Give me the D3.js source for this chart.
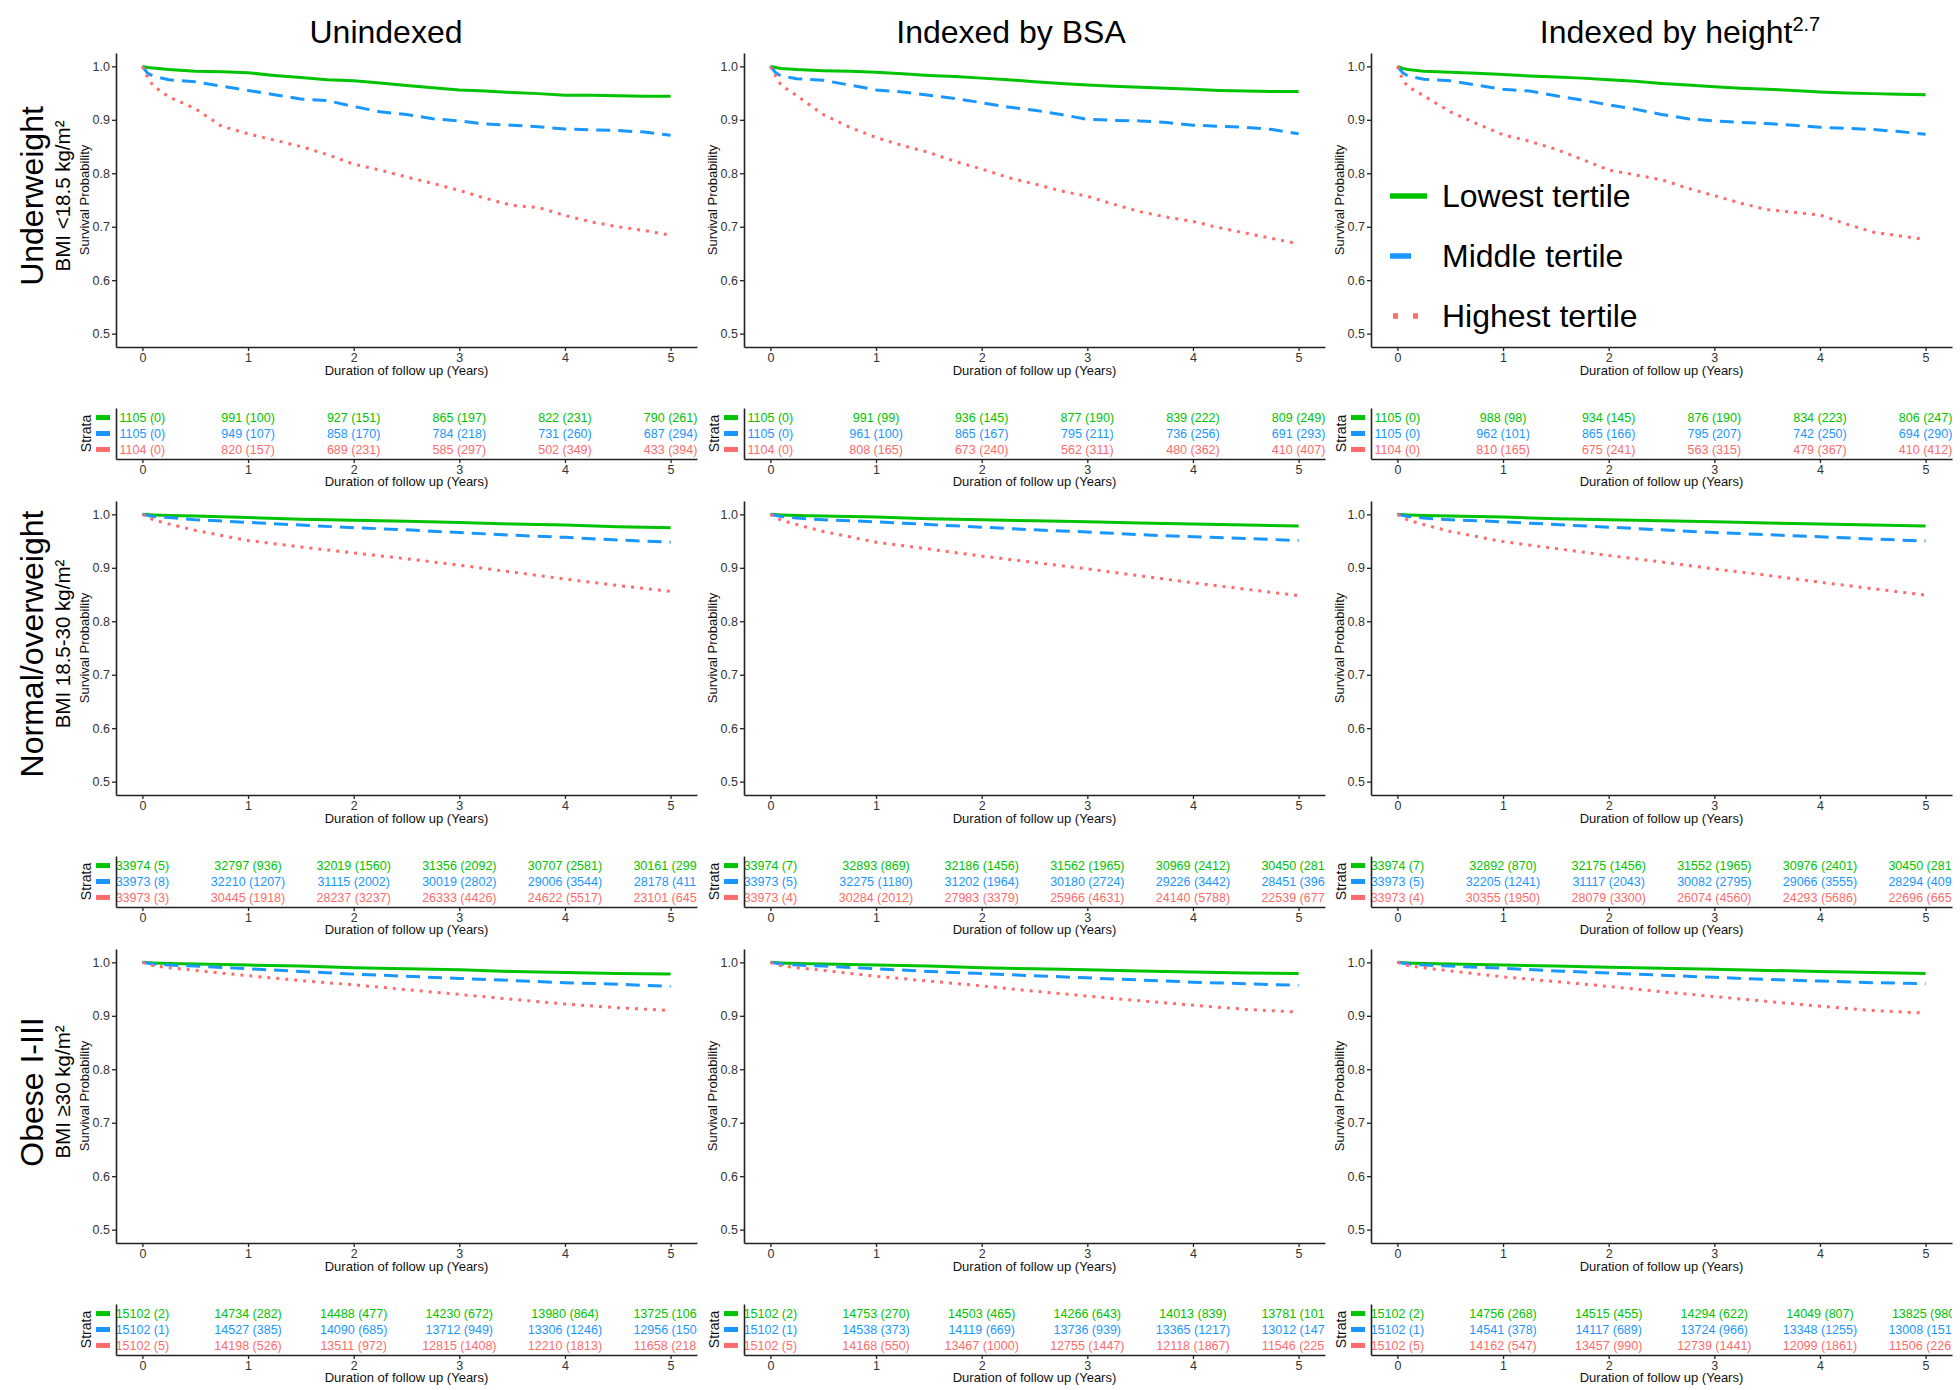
<!DOCTYPE html>
<html>
<head>
<meta charset="utf-8">
<script src="https://cdn.jsdelivr.net/npm/d3@7"></script>
<style>
  body { margin: 0; background: #fff; }
  svg { display: block; font-family: "Liberation Sans", Arial, Helvetica, sans-serif; }
</style>
</head>
<body>
<svg id="chart" width="1960" height="1390"></svg>
<script>
// ---- labels ----
const columnTitles = ["Unindexed", "Indexed by BSA", "Indexed by height"];
const rowGroups = ["Underweight", "Normal/overweight", "Obese I-III"];
const rowBmi = ["BMI <18.5 kg/m²", "BMI 18.5-30 kg/m²", "BMI ≥30 kg/m²"];
const tertiles = ["Lowest tertile", "Middle tertile", "Highest tertile"];
const yTicks = [0.5, 0.6, 0.7, 0.8, 0.9, 1.0];
const xTicks = [0, 1, 2, 3, 4, 5];
const tableTimes = [0, 1, 2, 3, 4, 5];

// ---- follow-up times (years) at which survival is listed ----
const timesUnderweight = [0, 0.05, 0.1, 0.25, 0.5, 0.75, 1, 1.25, 1.5, 1.75, 2, 2.25, 2.5, 2.75, 3, 3.25, 3.5, 3.75, 4, 4.25, 4.5, 4.75, 5];
const timesLarger = [0, 0.1, 0.25, 0.5, 1, 1.5, 2, 2.5, 3, 3.5, 4, 4.5, 5];

// ---- survival probability: underweight ----
const uwUnindexedLow  = [1, 0.998, 0.997, 0.994, 0.991, 0.990, 0.988, 0.983, 0.979, 0.975, 0.973, 0.969, 0.964, 0.960, 0.956, 0.954, 0.951, 0.949, 0.946, 0.946, 0.945, 0.944, 0.944];
const uwUnindexedMid  = [1, 0.987, 0.982, 0.975, 0.971, 0.963, 0.955, 0.947, 0.939, 0.936, 0.925, 0.915, 0.910, 0.902, 0.898, 0.892, 0.890, 0.887, 0.883, 0.881, 0.880, 0.877, 0.871];
const uwUnindexedHigh = [1, 0.980, 0.964, 0.943, 0.921, 0.888, 0.874, 0.862, 0.850, 0.835, 0.817, 0.806, 0.793, 0.781, 0.768, 0.753, 0.740, 0.736, 0.721, 0.709, 0.700, 0.693, 0.684];

const uwBsaLow  = [1, 0.998, 0.996, 0.994, 0.992, 0.991, 0.989, 0.986, 0.983, 0.981, 0.978, 0.975, 0.971, 0.968, 0.965, 0.963, 0.961, 0.959, 0.957, 0.955, 0.954, 0.953, 0.953];
const uwBsaMid  = [1, 0.988, 0.982, 0.977, 0.974, 0.965, 0.956, 0.952, 0.946, 0.940, 0.932, 0.924, 0.918, 0.910, 0.901, 0.899, 0.898, 0.895, 0.890, 0.888, 0.886, 0.882, 0.874];
const uwBsaHigh = [1, 0.982, 0.965, 0.945, 0.910, 0.886, 0.867, 0.852, 0.839, 0.822, 0.808, 0.792, 0.780, 0.767, 0.757, 0.742, 0.728, 0.718, 0.710, 0.698, 0.688, 0.678, 0.668];

const uwHeightLow  = [1, 0.996, 0.994, 0.991, 0.989, 0.987, 0.985, 0.982, 0.980, 0.978, 0.975, 0.972, 0.968, 0.965, 0.962, 0.959, 0.957, 0.955, 0.952, 0.950, 0.949, 0.948, 0.947];
const uwHeightMid  = [1, 0.988, 0.982, 0.976, 0.973, 0.965, 0.957, 0.954, 0.945, 0.937, 0.928, 0.920, 0.910, 0.902, 0.898, 0.895, 0.893, 0.890, 0.886, 0.884, 0.882, 0.878, 0.873];
const uwHeightHigh = [1, 0.975, 0.962, 0.945, 0.915, 0.893, 0.872, 0.860, 0.845, 0.826, 0.806, 0.797, 0.788, 0.772, 0.758, 0.744, 0.732, 0.727, 0.722, 0.705, 0.690, 0.683, 0.676];

// ---- survival probability: normal/overweight ----
const noUnindexedLow  = [1, 0.999, 0.998, 0.997, 0.994, 0.991, 0.989, 0.987, 0.985, 0.982, 0.980, 0.977, 0.975];
const noUnindexedMid  = [1, 0.996, 0.994, 0.990, 0.985, 0.980, 0.975, 0.971, 0.966, 0.961, 0.957, 0.952, 0.948];
const noUnindexedHigh = [1, 0.990, 0.982, 0.970, 0.951, 0.939, 0.928, 0.917, 0.905, 0.892, 0.879, 0.867, 0.856];

const noBsaLow  = [1, 0.999, 0.998, 0.997, 0.995, 0.992, 0.990, 0.988, 0.986, 0.984, 0.982, 0.980, 0.978];
const noBsaMid  = [1, 0.996, 0.993, 0.990, 0.986, 0.981, 0.976, 0.971, 0.967, 0.962, 0.958, 0.955, 0.951];
const noBsaHigh = [1, 0.989, 0.981, 0.968, 0.948, 0.935, 0.922, 0.910, 0.898, 0.885, 0.872, 0.860, 0.848];

const noHeightLow  = [1, 0.999, 0.998, 0.997, 0.995, 0.992, 0.990, 0.988, 0.986, 0.984, 0.982, 0.980, 0.978];
const noHeightMid  = [1, 0.996, 0.993, 0.990, 0.986, 0.981, 0.976, 0.971, 0.966, 0.962, 0.958, 0.954, 0.950];
const noHeightHigh = [1, 0.989, 0.981, 0.968, 0.949, 0.936, 0.923, 0.911, 0.898, 0.886, 0.873, 0.861, 0.849];

// ---- survival probability: obese ----
const obUnindexedLow  = [1, 0.999, 0.998, 0.997, 0.995, 0.993, 0.990, 0.988, 0.986, 0.983, 0.981, 0.979, 0.978];
const obUnindexedMid  = [1, 0.997, 0.995, 0.993, 0.988, 0.983, 0.978, 0.974, 0.970, 0.966, 0.962, 0.959, 0.955];
const obUnindexedHigh = [1, 0.994, 0.990, 0.985, 0.975, 0.966, 0.958, 0.949, 0.940, 0.931, 0.922, 0.915, 0.910];

const obBsaLow  = [1, 0.999, 0.998, 0.997, 0.995, 0.993, 0.990, 0.988, 0.986, 0.984, 0.982, 0.980, 0.979];
const obBsaMid  = [1, 0.997, 0.995, 0.993, 0.988, 0.983, 0.979, 0.975, 0.971, 0.967, 0.963, 0.960, 0.957];
const obBsaHigh = [1, 0.994, 0.990, 0.985, 0.974, 0.965, 0.956, 0.946, 0.937, 0.928, 0.920, 0.912, 0.907];

const obHeightLow  = [1, 0.999, 0.998, 0.997, 0.995, 0.993, 0.991, 0.989, 0.987, 0.985, 0.983, 0.981, 0.979];
const obHeightMid  = [1, 0.997, 0.995, 0.993, 0.989, 0.984, 0.980, 0.976, 0.972, 0.968, 0.965, 0.962, 0.960];
const obHeightHigh = [1, 0.994, 0.990, 0.984, 0.973, 0.964, 0.955, 0.945, 0.936, 0.927, 0.918, 0.910, 0.905];

// ---- numbers at risk and cumulative censored, rows = tertiles, columns = years 0..5 ----
const atRiskUwUnindexed = [[1105, 991, 927, 865, 822, 790], [1105, 949, 858, 784, 731, 687], [1104, 820, 689, 585, 502, 433]];
const censUwUnindexed   = [[0, 100, 151, 197, 231, 261], [0, 107, 170, 218, 260, 294], [0, 157, 231, 297, 349, 394]];
const atRiskUwBsa = [[1105, 991, 936, 877, 839, 809], [1105, 961, 865, 795, 736, 691], [1104, 808, 673, 562, 480, 410]];
const censUwBsa   = [[0, 99, 145, 190, 222, 249], [0, 100, 167, 211, 256, 293], [0, 165, 240, 311, 362, 407]];
const atRiskUwHeight = [[1105, 988, 934, 876, 834, 806], [1105, 962, 865, 795, 742, 694], [1104, 810, 675, 563, 479, 410]];
const censUwHeight   = [[0, 98, 145, 190, 223, 247], [0, 101, 166, 207, 250, 290], [0, 165, 241, 315, 367, 412]];

const atRiskNoUnindexed = [[33974, 32797, 32019, 31356, 30707, 30161], [33973, 32210, 31115, 30019, 29006, 28178], [33973, 30445, 28237, 26333, 24622, 23101]];
const censNoUnindexed   = [[5, 936, 1560, 2092, 2581, 2993], [8, 1207, 2002, 2802, 3544, 4113], [3, 1918, 3237, 4426, 5517, 6454]];
const atRiskNoBsa = [[33974, 32893, 32186, 31562, 30969, 30450], [33973, 32275, 31202, 30180, 29226, 28451], [33973, 30284, 27983, 25966, 24140, 22539]];
const censNoBsa   = [[7, 869, 1456, 1965, 2412, 2816], [5, 1180, 1964, 2724, 3442, 3969], [4, 2012, 3379, 4631, 5788, 6774]];
const atRiskNoHeight = [[33974, 32892, 32175, 31552, 30976, 30450], [33973, 32205, 31117, 30082, 29066, 28294], [33973, 30355, 28079, 26074, 24293, 22696]];
const censNoHeight   = [[7, 870, 1456, 1965, 2401, 2810], [5, 1241, 2043, 2795, 3555, 4094], [4, 1950, 3300, 4560, 5686, 6659]];

const atRiskObUnindexed = [[15102, 14734, 14488, 14230, 13980, 13725], [15102, 14527, 14090, 13712, 13306, 12956], [15102, 14198, 13511, 12815, 12210, 11658]];
const censObUnindexed   = [[2, 282, 477, 672, 864, 1063], [1, 385, 685, 949, 1246, 1507], [5, 526, 972, 1408, 1813, 2183]];
const atRiskObBsa = [[15102, 14753, 14503, 14266, 14013, 13781], [15102, 14538, 14119, 13736, 13365, 13012], [15102, 14168, 13467, 12755, 12118, 11546]];
const censObBsa   = [[2, 270, 465, 643, 839, 1014], [1, 373, 669, 939, 1217, 1479], [5, 550, 1000, 1447, 1867, 2257]];
const atRiskObHeight = [[15102, 14756, 14515, 14294, 14049, 13825], [15102, 14541, 14117, 13724, 13348, 13008], [15102, 14162, 13457, 12739, 12099, 11506]];
const censObHeight   = [[2, 268, 455, 622, 807, 980], [1, 378, 689, 966, 1255, 1516], [5, 547, 990, 1441, 1861, 2263]];

// ---- assemble grid ----
const rowTimes = [timesUnderweight, timesLarger, timesLarger];
const survivalGrid = [
  [[uwUnindexedLow, uwUnindexedMid, uwUnindexedHigh], [uwBsaLow, uwBsaMid, uwBsaHigh], [uwHeightLow, uwHeightMid, uwHeightHigh]],
  [[noUnindexedLow, noUnindexedMid, noUnindexedHigh], [noBsaLow, noBsaMid, noBsaHigh], [noHeightLow, noHeightMid, noHeightHigh]],
  [[obUnindexedLow, obUnindexedMid, obUnindexedHigh], [obBsaLow, obBsaMid, obBsaHigh], [obHeightLow, obHeightMid, obHeightHigh]]
];
const atRiskGrid = [
  [atRiskUwUnindexed, atRiskUwBsa, atRiskUwHeight],
  [atRiskNoUnindexed, atRiskNoBsa, atRiskNoHeight],
  [atRiskObUnindexed, atRiskObBsa, atRiskObHeight]
];
const censGrid = [
  [censUwUnindexed, censUwBsa, censUwHeight],
  [censNoUnindexed, censNoBsa, censNoHeight],
  [censObUnindexed, censObBsa, censObHeight]
];

// ---- layout & style ----
const colors = ["#00C300", "#1A97FF", "#FF6B6B"];
const dashes = [null, "14,8", "3,6"];
const colLeft = [116, 744, 1371];
const panelW = 581;
const rowTop = [53, 501, 949];
const plotH = 294;
const tableGap = 355;
const tableH = 51;
const axisColor = "#222";
const tickColor = "#333";

const svg = d3.select("#chart");
const defs = svg.append("defs");

function styleAxis(g) {
  g.select(".domain").attr("stroke", axisColor).attr("stroke-width", 1.6);
  g.selectAll(".tick line").attr("stroke", axisColor).attr("stroke-width", 1.3);
  g.selectAll(".tick text").attr("fill", tickColor).attr("font-size", 12.5)
    .attr("font-family", "Liberation Sans, Arial, sans-serif");
}

// column titles
const titleX = [386, 1011, 1680];
columnTitles.forEach((t, c) => {
  const tx = svg.append("text")
    .attr("x", titleX[c]).attr("y", 43)
    .attr("text-anchor", "middle")
    .attr("font-size", 32).attr("fill", "#000")
    .text(t);
  if (c === 2) {
    tx.append("tspan").attr("font-size", 20).attr("dy", -12).text("2.7");
  }
});

// row labels
rowGroups.forEach((t, r) => {
  const cy = rowTop[r] + plotH / 2 - 4;
  svg.append("text")
    .attr("transform", `translate(32,${cy}) rotate(-90)`)
    .attr("text-anchor", "middle").attr("dy", "0.35em")
    .attr("font-size", 32).attr("fill", "#000")
    .text(t);
  svg.append("text")
    .attr("transform", `translate(63,${cy}) rotate(-90)`)
    .attr("text-anchor", "middle").attr("dy", "0.35em")
    .attr("font-size", 20.5).attr("fill", "#000")
    .text(rowBmi[r]);
});

for (let r = 0; r < 3; r++) {
  for (let c = 0; c < 3; c++) {
    const x0 = colLeft[c];
    const top = rowTop[r];
    const x = d3.scaleLinear().domain([-0.25, 5.25]).range([x0, x0 + panelW]);
    const y = d3.scaleLinear().domain([0.475, 1.025]).range([top + plotH, top]);
    const g = svg.append("g");

    // survival curves
    const times = rowTimes[r];
    const line = d3.line().x((d, i) => x(times[i])).y(d => y(d));
    survivalGrid[r][c].forEach((series, s) => {
      g.append("path")
        .attr("d", line(series))
        .attr("fill", "none")
        .attr("stroke", colors[s])
        .attr("stroke-width", 3)
        .attr("stroke-linejoin", "round")
        .attr("stroke-dasharray", dashes[s]);
    });

    // axes
    g.append("g").attr("transform", `translate(0,${top + plotH})`)
      .call(d3.axisBottom(x).tickValues(xTicks).tickFormat(d3.format("d")).tickSize(4).tickSizeOuter(0).tickPadding(2))
      .call(styleAxis);
    g.append("g").attr("transform", `translate(${x0},0)`)
      .call(d3.axisLeft(y).tickValues(yTicks).tickFormat(d3.format(".1f")).tickSize(4).tickSizeOuter(0).tickPadding(2))
      .call(styleAxis);

    g.append("text")
      .attr("x", x0 + panelW / 2).attr("y", top + plotH + 28)
      .attr("text-anchor", "middle").attr("font-size", 13).attr("fill", "#111")
      .text("Duration of follow up (Years)");
    g.append("text")
      .attr("transform", `translate(${x0 - 32},${top + plotH / 2}) rotate(-90)`)
      .attr("text-anchor", "middle").attr("dy", "0.35em")
      .attr("font-size", 13).attr("fill", "#111")
      .text("Survival Probability");

    // ---- risk table ----
    const tTop = top + tableGap;
    const tBottom = tTop + tableH;
    const ys = d3.scalePoint().domain(tertiles).range([tTop, tBottom]).padding(0.6);
    const clipId = `clip-${r}-${c}`;
    defs.append("clipPath").attr("id", clipId)
      .append("rect").attr("x", x0).attr("y", tTop - 10).attr("width", panelW).attr("height", tableH + 10);

    const tg = svg.append("g");
    const cells = tg.append("g").attr("clip-path", `url(#${clipId})`);
    tertiles.forEach((lab, s) => {
      tableTimes.forEach((tm, k) => {
        cells.append("text")
          .attr("x", x(tm)).attr("y", ys(lab))
          .attr("dy", "0.36em").attr("text-anchor", "middle")
          .attr("font-size", 12.5).attr("fill", colors[s])
          .text(`${atRiskGrid[r][c][s][k]} (${censGrid[r][c][s][k]})`);
      });
      tg.append("rect")
        .attr("x", x0 - 20).attr("y", ys(lab) - 2.5)
        .attr("width", 14).attr("height", 5)
        .attr("fill", colors[s]);
    });

    tg.append("g").attr("transform", `translate(0,${tBottom})`)
      .call(d3.axisBottom(x).tickValues(xTicks).tickFormat(d3.format("d")).tickSize(4).tickSizeOuter(0).tickPadding(2))
      .call(styleAxis);
    tg.append("g").attr("transform", `translate(${x0},0)`)
      .call(d3.axisLeft(ys).tickValues([]).tickSize(0).tickSizeOuter(0))
      .call(styleAxis);

    tg.append("text")
      .attr("x", x0 + panelW / 2).attr("y", tBottom + 27)
      .attr("text-anchor", "middle").attr("font-size", 13).attr("fill", "#111")
      .text("Duration of follow up (Years)");
    tg.append("text")
      .attr("transform", `translate(${x0 - 30},${(tTop + tBottom) / 2}) rotate(-90)`)
      .attr("text-anchor", "middle").attr("dy", "0.35em")
      .attr("font-size", 14).attr("fill", "#111")
      .text("Strata");
  }
}

// ---- legend ----
const legendY = [196, 256, 316];
const legendDash = [null, "21,16", "5,15"];
const legend = svg.append("g");
tertiles.forEach((t, s) => {
  legend.append("line")
    .attr("x1", s === 2 ? 1393 : 1390).attr("x2", 1427)
    .attr("y1", legendY[s]).attr("y2", legendY[s])
    .attr("stroke", colors[s]).attr("stroke-width", 5.5)
    .attr("stroke-dasharray", legendDash[s]);
  legend.append("text")
    .attr("x", 1442).attr("y", legendY[s]).attr("dy", "0.35em")
    .attr("font-size", 32).attr("fill", "#000")
    .text(t);
});
</script>
</body>
</html>
